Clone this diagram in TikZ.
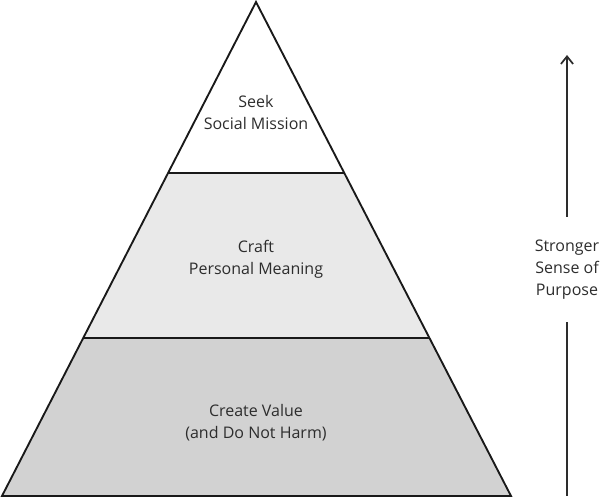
\documentclass[tikz,border=0pt]{standalone}
\usepackage{fontspec}
\setmainfont{Open Sans}
\usepackage{xcolor}
\usepackage{tikz}
\usetikzlibrary{positioning,arrows.meta,calc}

\definecolor{tierlight}{RGB}{233,233,233}
\definecolor{tierdark}{RGB}{210,210,210}
\definecolor{inkgray}{RGB}{45,45,45}

\begin{document}
\begin{tikzpicture}[x=0.75pt, y=-0.75pt, font=\fontsize{12}{16.5}\selectfont, >={Straight Barb[length=2mm, width=3.2mm]},
  tier/.style={align=center, text=inkgray},
  edge/.style={draw=black!90, line width=1.4pt, line join=miter}]
\useasboundingbox (0,0) rectangle (600,498);
% pyramid corners
\coordinate (apex) at (256,2);
\coordinate (bl) at (2,496);
\coordinate (br) at (511,496);
\coordinate (ml1) at ($(apex)!0.346!(bl)$);
\coordinate (mr1) at ($(apex)!0.346!(br)$);
\coordinate (ml2) at ($(apex)!0.680!(bl)$);
\coordinate (mr2) at ($(apex)!0.680!(br)$);
% tiers
\fill[tierdark] (ml2) -- (mr2) -- (br) -- (bl) -- cycle;
\fill[tierlight] (ml1) -- (mr1) -- (mr2) -- (ml2) -- cycle;
\draw[edge] (ml1) -- (mr1);
\draw[edge] (ml2) -- (mr2);
\draw[edge] (apex) -- (br) -- (bl) -- cycle;
\node[tier] (mission) at (256,113) {Seek\\Social Mission};
\node[tier] (meaning) at (256,259) {Craft\\Personal Meaning};
\node[tier] (value) at (256,423) {Create Value\\(and Do Not Harm)};
% purpose arrow
\node[tier, minimum height=105*0.75pt] (purpose) at (567,269.5) {Stronger\\Sense of\\Purpose};
\coordinate (low) at (567,496);
\coordinate (top) at (567,55);
\draw[inkgray, line width=1.3pt] (low) -- (purpose.south);
\draw[->, inkgray, line width=1.3pt] (purpose.north) -- (top);
\end{tikzpicture}
\end{document}
